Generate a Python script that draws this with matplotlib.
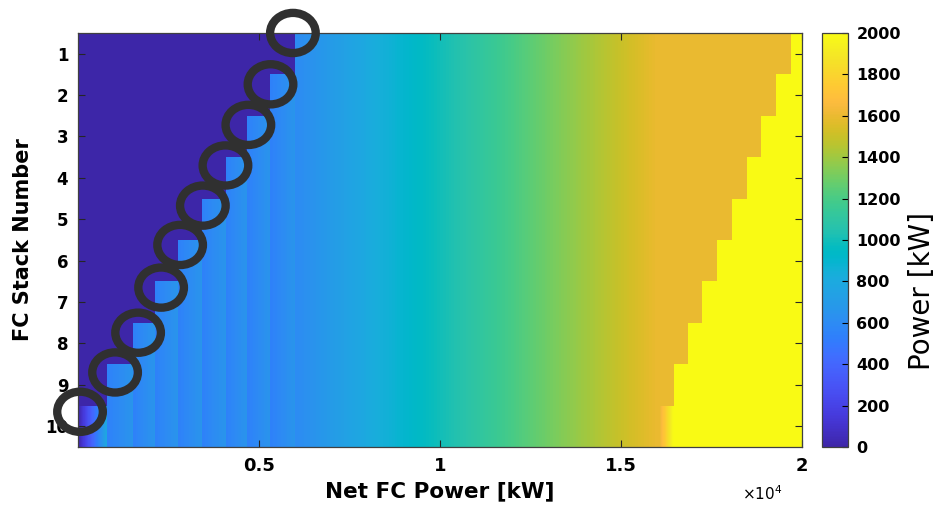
import numpy as np
import matplotlib
matplotlib.use("Agg")
import matplotlib.pyplot as plt
from matplotlib.colors import LinearSegmentedColormap
from matplotlib.patches import Ellipse

# MATLAB parula (64 entries)
PARULA = [
    [0.2422, 0.1504, 0.6603], [0.2504, 0.1650, 0.7076], [0.2578, 0.1818, 0.7511], [0.2647, 0.1978, 0.7952],
    [0.2706, 0.2147, 0.8364], [0.2751, 0.2342, 0.8710], [0.2783, 0.2559, 0.8991], [0.2803, 0.2782, 0.9221],
    [0.2813, 0.3006, 0.9414], [0.2810, 0.3228, 0.9579], [0.2795, 0.3447, 0.9717], [0.2760, 0.3667, 0.9829],
    [0.2699, 0.3892, 0.9906], [0.2602, 0.4123, 0.9952], [0.2440, 0.4358, 0.9988], [0.2206, 0.4603, 0.9973],
    [0.1963, 0.4847, 0.9892], [0.1834, 0.5074, 0.9798], [0.1786, 0.5289, 0.9682], [0.1764, 0.5499, 0.9520],
    [0.1687, 0.5703, 0.9359], [0.1540, 0.5902, 0.9218], [0.1460, 0.6091, 0.9079], [0.1380, 0.6276, 0.8973],
    [0.1248, 0.6459, 0.8883], [0.1113, 0.6635, 0.8763], [0.0952, 0.6798, 0.8598], [0.0689, 0.6948, 0.8394],
    [0.0297, 0.7082, 0.8163], [0.0036, 0.7203, 0.7917], [0.0067, 0.7312, 0.7660], [0.0433, 0.7411, 0.7394],
    [0.0964, 0.7500, 0.7120], [0.1408, 0.7584, 0.6842], [0.1717, 0.7670, 0.6554], [0.1938, 0.7758, 0.6251],
    [0.2161, 0.7843, 0.5923], [0.2470, 0.7918, 0.5567], [0.2906, 0.7973, 0.5188], [0.3406, 0.8008, 0.4789],
    [0.3909, 0.8029, 0.4354], [0.4456, 0.8024, 0.3909], [0.5044, 0.7993, 0.3480], [0.5616, 0.7942, 0.3045],
    [0.6174, 0.7876, 0.2612], [0.6720, 0.7793, 0.2227], [0.7242, 0.7698, 0.1910], [0.7738, 0.7598, 0.1646],
    [0.8203, 0.7498, 0.1535], [0.8634, 0.7406, 0.1596], [0.9035, 0.7330, 0.1774], [0.9393, 0.7288, 0.2100],
    [0.9728, 0.7298, 0.2394], [0.9956, 0.7434, 0.2371], [0.9970, 0.7659, 0.2199], [0.9952, 0.7893, 0.2028],
    [0.9892, 0.8136, 0.1885], [0.9786, 0.8386, 0.1766], [0.9676, 0.8639, 0.1643], [0.9610, 0.8890, 0.1537],
    [0.9597, 0.9135, 0.1423], [0.9628, 0.9373, 0.1265], [0.9691, 0.9606, 0.1064], [0.9769, 0.9839, 0.0805],
]
parula = LinearSegmentedColormap.from_list("parula", PARULA, N=256)

# stacks and switching points [kW of net power]
stack_no = np.arange(1, 11)
switch_on = [5983, 5318, 4673, 4072, 3416, 2760, 2114, 1515, 795, 0]
reach_rated = [19695, 19280, 18890, 18475, 18070, 17670, 17260, 16870, 16460, 16070]
share_after_switch = 540   # stack power right after another stack joins
share_before_switch = 660  # stack power just before the next stack joins
hold_power = 1600
rated_power = 2000
net_max = 20000

# circled switch-on points
circle_x = [5936, 5317, 4705, 4072, 3448, 2820, 2295, 1659, 1023, 55]
circle_y = [0.5, 1.74, 2.72, 3.70, 4.67, 5.62, 6.65, 7.74, 8.70, 9.65]

net_power = np.arange(0, net_max + 1, 10)
on_sorted = np.sort(switch_on)
all_on = on_sorted[-1]

# power per running stack along the net power axis
share = np.empty(len(net_power), dtype=float)
for j, p in enumerate(net_power):
    if p >= all_on:
        share[j] = min(p / len(stack_no), hold_power)
        continue
    n_on = np.searchsorted(on_sorted, p, side="right")
    if n_on == 1:
        share[j] = p
    else:
        a, b = on_sorted[n_on - 1], on_sorted[n_on]
        share[j] = share_after_switch + (share_before_switch - share_after_switch) * (p - a) / (b - a)

stack_power = np.zeros((len(stack_no), len(net_power)))
for i in range(len(stack_no)):
    on = net_power >= switch_on[i]
    stack_power[i, on] = share[on]
    stack_power[i, net_power >= reach_rated[i]] = rated_power

# first stack ramps up to rated before the second one is pushed
first = int(np.argmin(reach_rated))
second = sorted(reach_rated)[1]
ramp = (net_power >= reach_rated[first]) & (net_power < second)
stack_power[first, ramp] = hold_power + (rated_power - hold_power) * \
    (net_power[ramp] - reach_rated[first]) / (second - reach_rated[first])

plt.rcParams["font.family"] = "DejaVu Sans"
plt.rcParams["mathtext.default"] = "regular"

fig = plt.figure(figsize=(9.46, 5.05), dpi=100)
ax = fig.add_axes([0.0825, 0.1149, 0.7653, 0.8198])
cax = fig.add_axes([0.869, 0.1149, 0.0275, 0.8198])

im = ax.imshow(stack_power, cmap=parula, vmin=0, vmax=rated_power, aspect="auto",
               interpolation="nearest",
               extent=[0, net_max, stack_no[-1] + 0.5, stack_no[0] - 0.5])

for x, y in zip(circle_x, circle_y):
    ax.add_patch(Ellipse((x, y), width=1260, height=0.97, fill=False,
                         edgecolor="#303030", linewidth=6, clip_on=False, zorder=5))

ax.set_xlim(0, net_max)
ax.set_ylim(stack_no[-1] + 0.5, stack_no[0] - 0.5)
ax.set_yticks(stack_no)
ax.set_xticks([5000, 10000, 15000, 20000])
ax.set_xticklabels(["0.5", "1", "1.5", "2"])
ax.tick_params(direction="in", top=True, right=True, length=5, width=0.8,
               pad=7, color="#262626")
ax.tick_params(axis="x", labelsize=13)
ax.tick_params(axis="y", labelsize=12)
for lbl in ax.get_xticklabels() + ax.get_yticklabels():
    lbl.set_fontweight("bold")
for s in ax.spines.values():
    s.set_color("#404040")
    s.set_linewidth(0.9)

ax.set_xlabel("Net FC Power [kW]", fontsize=15.5, fontweight="bold", labelpad=5)
ax.set_ylabel("FC Stack Number", fontsize=15, fontweight="bold", labelpad=9)
fig.text(762 / 946, 1 - 494 / 505, r"$\times10^4$", fontsize=11, ha="center", va="center")

cb = fig.colorbar(im, cax=cax)
cb.set_ticks(np.arange(0, 2001, 200))
cb.ax.tick_params(direction="in", length=4, width=0.8, labelsize=11.5, pad=6)
for lbl in cb.ax.get_yticklabels():
    lbl.set_fontweight("bold")
cb.outline.set_edgecolor("#404040")
cb.outline.set_linewidth(0.9)
fig.text(922 / 946, 1 - 291 / 505, "Power [kW]", fontsize=20, rotation=90,
         ha="center", va="center")

fig.savefig("out.png", dpi=100)
